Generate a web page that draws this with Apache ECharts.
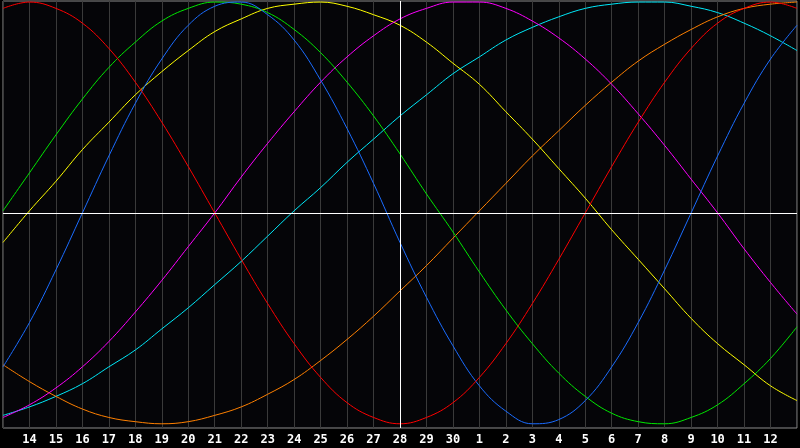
<!DOCTYPE html>
<html>
<head>
<meta charset="utf-8">
<script src="https://cdn.jsdelivr.net/npm/echarts@6/dist/echarts.min.js"></script>
<style>
    html, body { margin: 0; padding: 0; background: #000; }
    #container1 { width: 800px; height: 448px; }
</style>
</head>
<body>
<div id="container1"></div>
<script>
// day labels, one per grid line (13th to the 13th of the next month)
var dayLabels = ['13', '14', '15', '16', '17', '18', '19', '20', '21', '22', '23', '24', '25', '26', '27',
    '28', '29', '30', '1', '2', '3', '4', '5', '6', '7', '8', '9', '10', '11', '12', '13'];
var todayLabel = '28';

// values, -100..100, one per day
var physical = [-73, -52, -27, 0, 27, 52, 73, 89, 98, 100, 94, 82, 63, 40, 14, -14,
    -40, -63, -82, -94, -100, -98, -89, -73, -52, -27, 0, 27, 52, 73, 89];
var emotional = [97, 100, 97, 90, 78, 62, 43, 22, 0, -22, -43, -62, -78, -90, -97, -100,
    -97, -90, -78, -62, -43, -22, 0, 22, 43, 62, 78, 90, 97, 100, 97];
var intellectual = [1, 19, 37, 54, 69, 81, 91, 97, 100, 99, 95, 87, 76, 62, 46, 28,
    9, -9, -28, -46, -62, -76, -87, -95, -99, -100, -97, -91, -81, -69, -54];
var intuitive = [-97, -91, -83, -73, -61, -47, -32, -16, 0, 17, 33, 48, 62, 74, 84, 92,
    97, 100, 100, 97, 91, 83, 73, 61, 47, 32, 16, 0, -17, -33, -48];
var aesthetic = [-14, 1, 15, 30, 43, 56, 67, 77, 86, 92, 97, 99, 100, 98, 94, 89,
    81, 71, 61, 48, 35, 21, 7, -8, -22, -36, -50, -62, -72, -82, -89];
var awareness = [-72, -80, -87, -93, -97, -99, -100, -99, -96, -92, -86, -79, -70, -60, -49, -37,
    -25, -12, 1, 14, 27, 39, 51, 62, 72, 80, 87, 93, 97, 99, 100];
var spiritual = [-96, -92, -87, -81, -73, -65, -55, -45, -34, -23, -11, 1, 12, 24, 35, 46,
    56, 66, 74, 82, 88, 93, 97, 99, 100, 100, 98, 95, 90, 84, 77];

(function container1() {
    var dom = document.getElementById("container1");
    var chart = echarts.init(dom);

    function curve(name, data, color) {
        return {
            name: name,
            type: 'line',
            smooth: 0.4,
            showSymbol: false,
            silent: true,
            lineStyle: {
                width: 1,
                color: color
            },
            data: data
        };
    }

    var series = [
        curve('spiritual', spiritual, '#00e8f8'),
        curve('awareness', awareness, '#ff8000'),
        curve('aesthetic', aesthetic, '#ffff00'),
        curve('intuitive', intuitive, '#ff00ff'),
        curve('intellectual', intellectual, '#00e800'),
        curve('physical', physical, '#1a6cff'),
        curve('emotional', emotional, '#ff0000')
    ];
    // zero line and today line
    series[0].markLine = {
        silent: true,
        symbol: 'none',
        label: { show: false },
        lineStyle: { color: '#ffffff', width: 1, type: 'solid' },
        data: [{ yAxis: 0 }, { xAxis: todayLabel }]
    };

    var option = {
        animation: false,
        backgroundColor: '#000000',
        grid: {
            show: true,
            left: 1,
            right: 1,
            top: 1,
            bottom: 20,
            backgroundColor: '#050508',
            borderColor: '#8c8c8c',
            borderWidth: 1
        },
        xAxis: {
            type: 'category',
            boundaryGap: false,
            data: dayLabels,
            axisLine: { show: false },
            axisTick: { show: false },
            axisLabel: {
                interval: 0,
                showMinLabel: false,
                showMaxLabel: false,
                margin: 6,
                color: '#ffffff',
                fontFamily: 'DejaVu Sans Mono',
                fontWeight: 'bold',
                fontSize: 12,
                formatter: function (value, index) {
                    return (index === 0 || index === dayLabels.length - 1) ? '' : value;
                }
            },
            splitLine: {
                show: true,
                interval: 0,
                lineStyle: { color: '#3a3a3a', width: 1 }
            }
        },
        yAxis: {
            type: 'value',
            min: -102,
            max: 100.5,
            axisLine: { show: false },
            axisTick: { show: false },
            axisLabel: { show: false },
            splitLine: { show: false }
        },
        series: series
    };

    if (option && typeof option === "object") {
        chart.setOption(option, true);
    }
})();
</script>
</body>
</html>
